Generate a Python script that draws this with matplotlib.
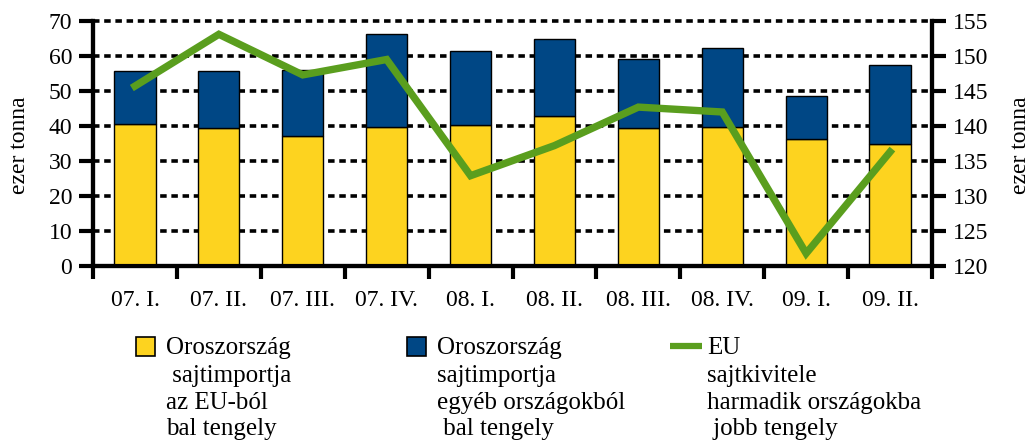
import matplotlib
matplotlib.use("Agg")
import matplotlib.pyplot as plt
from matplotlib.patches import Rectangle
from matplotlib.lines import Line2D
import numpy as np

categories = ["07. I.", "07. II.", "07. III.", "07. IV.", "08. I.",
              "08. II.", "08. III.", "08. IV.", "09. I.", "09. II."]
import_eu = [40.6, 39.3, 37.2, 39.6, 40.2, 42.9, 39.5, 39.8, 36.2, 35.0]
import_total = [55.7, 55.7, 56.0, 66.3, 61.5, 64.9, 59.1, 62.4, 48.6, 57.4]
import_other = [t - e for t, e in zip(import_total, import_eu)]
eu_export = [145.7, 153.1, 147.3, 149.5, 132.9, 137.2, 142.7, 142.0, 121.8, 136.3]

YELLOW = "#FDD31F"
BLUE = "#004785"
GREEN = "#5A9E1E"

plt.rcParams["font.family"] = ["Liberation Serif", "DejaVu Serif"]
plt.rcParams["font.size"] = 17

W, H = 1035, 443
fig = plt.figure(figsize=(W / 100, H / 100), dpi=100)
ax = fig.add_axes([93 / W, 1 - 266 / H, (932 - 93) / W, (266 - 21) / H])
ax2 = ax.twinx()

x = np.arange(len(categories))
ax.bar(x, import_eu, width=0.49, color=YELLOW, edgecolor="black", linewidth=1.0, zorder=3)
ax.bar(x, import_other, width=0.49, bottom=import_eu, color=BLUE, edgecolor="black",
       linewidth=1.0, zorder=3)

ax.set_xlim(-0.5, len(categories) - 0.5)
ax.set_ylim(0, 70)
ax.set_yticks(np.arange(0, 71, 10))
for v in np.arange(10, 71, 10):
    ax.axhline(v, color="black", linewidth=2.6, linestyle=(0, (1.8, 1.3)), zorder=1,
               clip_on=False)

ax.set_xticks(np.arange(-0.5, len(categories), 1.0))
ax.set_xticklabels([])
ax.set_xticks(x, minor=True)
ax.set_xticklabels(categories, minor=True, fontsize=17)
ax.tick_params(axis="x", which="major", direction="out", length=9, width=3, color="black")
ax.tick_params(axis="x", which="minor", length=0, pad=17)
ax.tick_params(axis="y", direction="out", length=10, width=3, pad=5, labelsize=17)

ax2.plot(x, eu_export, color=GREEN, linewidth=5.3, solid_joinstyle="miter", zorder=5)
ax2.set_ylim(120, 155)
ax2.set_yticks(np.arange(120, 156, 5))
ax2.tick_params(axis="y", direction="out", length=10, width=3, pad=5, labelsize=17)

for a in (ax, ax2):
    a.spines["top"].set_visible(False)
    a.spines["left"].set_linewidth(3)
    a.spines["right"].set_linewidth(3)
    a.spines["bottom"].set_linewidth(3)
    a.patch.set_visible(False)
ax.set_zorder(1)
ax2.set_zorder(2)

fig.text(20 / W, 1 - 145 / H, "ezer tonna", rotation=90, ha="center", va="center", fontsize=17)
fig.text(1020 / W, 1 - 145 / H, "ezer tonna", rotation=90, ha="center", va="center", fontsize=17)

# legend
def fx(px):
    return px / W

def fy(py):
    return 1 - py / H

fig.patches.append(Rectangle((fx(136), fy(356)), 19 / W, 19 / H, transform=fig.transFigure,
                             facecolor=YELLOW, edgecolor="black", linewidth=1.2))
fig.patches.append(Rectangle((fx(407), fy(356)), 19 / W, 19 / H, transform=fig.transFigure,
                             facecolor=BLUE, edgecolor="black", linewidth=1.2))
fig.lines.append(Line2D([fx(670), fx(702)], [fy(346), fy(346)], transform=fig.transFigure,
                        color=GREEN, linewidth=4.5, solid_capstyle="butt"))

leg_texts = [
    (166, ["Oroszország", " sajtimportja", "az EU-ból", "bal tengely"]),
    (437, ["Oroszország", "sajtimportja", "egyéb országokból", " bal tengely"]),
    (707, ["EU", "sajtkivitele", "harmadik országokba", " jobb tengely"]),
]
ys = [348, 376, 403, 429]
for xp, lines in leg_texts:
    for yp, t in zip(ys, lines):
        fig.text(fx(xp), fy(yp), t, ha="left", va="center", fontsize=18)

fig.savefig("out.png", dpi=100)
